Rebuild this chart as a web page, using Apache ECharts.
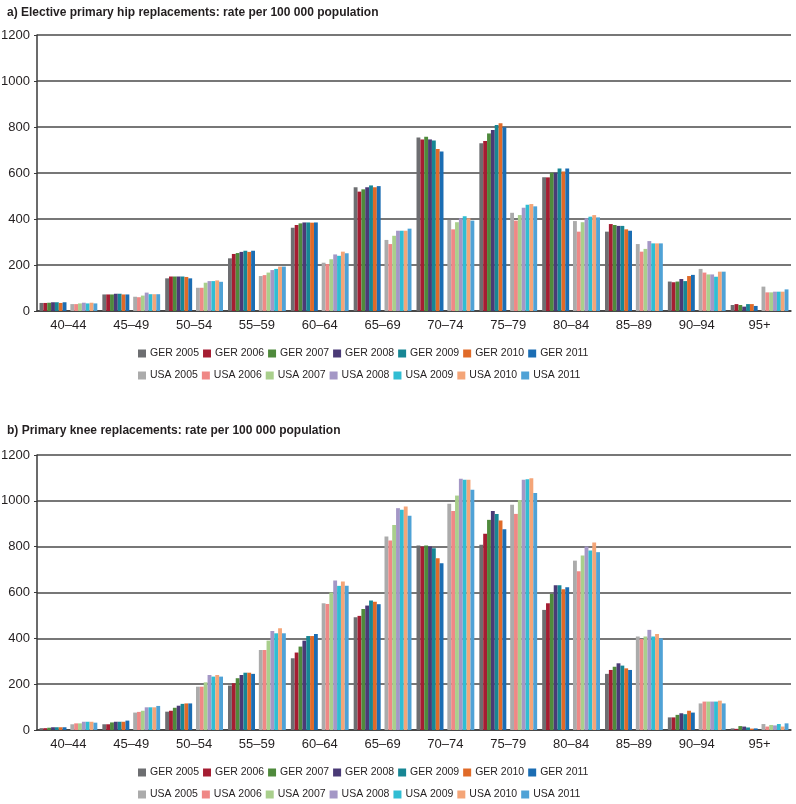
<!DOCTYPE html>
<html>
<head>
<meta charset="utf-8">
<script src="https://cdn.jsdelivr.net/npm/echarts@6/dist/echarts.min.js"></script>
<style>
    html, body { margin: 0; padding: 0; background: #fff; }
    #chart { width: 796px; height: 804px; }
</style>
</head>
<body>
<div id="chart"></div>
<script>
const ageGroups = ['40–44', '45–49', '50–54', '55–59', '60–64', '65–69', '70–74', '75–79', '80–84', '85–89', '90–94', '95+'];
const years = ['2005', '2006', '2007', '2008', '2009', '2010', '2011'];
const yTicks = [0, 200, 400, 600, 800, 1000, 1200];

// one row per age group, one column per year (2005..2011)
const hipGer = [
    [35, 35, 36, 38, 38, 35, 38],
    [72, 72, 72, 75, 75, 72, 72],
    [142, 150, 150, 150, 150, 148, 142],
    [229, 248, 252, 257, 262, 257, 262],
    [362, 374, 381, 385, 385, 384, 385],
    [538, 519, 529, 538, 546, 538, 543],
    [754, 746, 758, 746, 741, 704, 693],
    [729, 739, 772, 787, 809, 816, 799],
    [581, 581, 601, 601, 620, 606, 620],
    [345, 378, 374, 370, 370, 355, 349],
    [128, 125, 128, 139, 130, 152, 157],
    [26, 30, 26, 19, 30, 30, 22]
];
const hipUsa = [
    [30, 30, 33, 36, 33, 36, 33],
    [62, 60, 67, 80, 73, 73, 73],
    [101, 101, 123, 130, 130, 133, 127],
    [152, 156, 167, 178, 183, 193, 193],
    [210, 204, 225, 246, 240, 258, 251],
    [309, 291, 327, 349, 349, 349, 358],
    [396, 355, 386, 403, 412, 403, 393],
    [427, 393, 417, 449, 462, 465, 455],
    [391, 345, 386, 403, 410, 417, 407],
    [291, 258, 270, 304, 294, 294, 294],
    [183, 167, 159, 159, 149, 171, 171],
    [106, 81, 81, 84, 84, 84, 94]
];
const kneeGer = [
    [8, 8, 10, 12, 12, 12, 12],
    [25, 25, 33, 36, 36, 36, 41],
    [80, 84, 97, 106, 114, 116, 116],
    [194, 204, 226, 240, 250, 250, 245],
    [313, 338, 364, 390, 410, 410, 419],
    [492, 498, 528, 543, 565, 560, 549],
    [805, 801, 805, 801, 793, 750, 728],
    [808, 856, 917, 956, 943, 914, 876],
    [524, 553, 594, 632, 632, 614, 623],
    [245, 262, 276, 291, 281, 269, 262],
    [55, 55, 66, 73, 69, 84, 76],
    [7, 5, 17, 15, 11, 6, 7]
];
const kneeUsa = [
    [25, 29, 29, 36, 36, 36, 32],
    [76, 79, 84, 99, 99, 99, 105],
    [189, 189, 208, 240, 233, 240, 233],
    [349, 349, 390, 432, 422, 444, 422],
    [553, 550, 600, 652, 629, 648, 629],
    [844, 827, 895, 968, 961, 975, 935],
    [987, 956, 1023, 1096, 1092, 1092, 1048],
    [983, 943, 1004, 1092, 1094, 1099, 1034],
    [739, 693, 761, 801, 783, 818, 776],
    [408, 397, 408, 437, 408, 419, 400],
    [116, 124, 124, 124, 124, 128, 116],
    [26, 15, 22, 20, 26, 15, 29]
];

const gerColors = ['#6d6e71', '#a51d32', '#4f8a3c', '#4a3a76', '#178694', '#e06a28', '#1b6db3'];
const usaColors = ['#ababab', '#ef8886', '#a9cf8c', '#a497c6', '#30bdd3', '#f4a578', '#4fa2d6'];

const FONT = '"Liberation Sans Narrow", "Liberation Sans", Arial, sans-serif';
const TEXT = '#231f20';

const gerNames = years.map(y => 'GER ' + y);
const usaNames = years.map(y => 'USA ' + y);

const column = (table, i) => table.map(row => row[i]);

const buildSeries = (gerTable, usaTable, axisIdx) => {
    let list = [];
    years.forEach((y, i) => {
        list.push({
            name: gerNames[i], type: 'bar', xAxisIndex: axisIdx, yAxisIndex: axisIdx,
            data: column(gerTable, i), itemStyle: { color: gerColors[i] },
            barGap: 0, barCategoryGap: '8%'
        });
    });
    // empty spacer between the GER and USA clusters
    list.push({
        name: 'spacer', type: 'bar', xAxisIndex: axisIdx, yAxisIndex: axisIdx,
        data: ageGroups.map(() => null), barGap: 0, barCategoryGap: '8%'
    });
    years.forEach((y, i) => {
        list.push({
            name: usaNames[i], type: 'bar', xAxisIndex: axisIdx, yAxisIndex: axisIdx,
            data: column(usaTable, i), itemStyle: { color: usaColors[i] },
            barGap: 0, barCategoryGap: '8%'
        });
    });
    return list;
};

const makeLegend = (names, top) => ({
    data: names, left: 133, top: top, orient: 'horizontal',
    icon: 'rect', itemWidth: 8, itemHeight: 8, itemGap: 4,
    selectedMode: false,
    textStyle: { fontFamily: FONT, fontSize: 10.5, color: TEXT, padding: [0, 0, 0, -1] }
});

const makeXAxis = (gridIdx) => ({
    type: 'category', gridIndex: gridIdx, data: ageGroups,
    axisLine: { lineStyle: { color: '#3a3a3a', width: 1.5 } },
    axisTick: { show: false },
    axisLabel: { fontFamily: FONT, fontSize: 13, color: TEXT, margin: 8 }
});

const makeYAxis = (gridIdx) => ({
    type: 'value', gridIndex: gridIdx, min: yTicks[0], max: yTicks[yTicks.length - 1], interval: 200,
    axisLine: { show: true, lineStyle: { color: '#3a3a3a', width: 1.5 } },
    axisTick: { show: true, length: 3, lineStyle: { color: '#3a3a3a' } },
    axisLabel: { fontFamily: FONT, fontSize: 13, color: TEXT, margin: 7, formatter: v => String(v) },
    splitLine: { lineStyle: { color: '#4a4a4a', width: 1.5 } }
});

const chart = echarts.init(document.getElementById('chart'));
const option = {
    animation: false,
    title: [
        {
            text: 'a) Elective primary hip replacements: rate per 100 000 population',
            left: 2, top: 2,
            textStyle: { fontFamily: FONT, fontSize: 12, fontWeight: 'bold', color: TEXT }
        },
        {
            text: 'b) Primary knee replacements: rate per 100 000 population',
            left: 2, top: 420,
            textStyle: { fontFamily: FONT, fontSize: 12, fontWeight: 'bold', color: TEXT }
        }
    ],
    legend: [
        makeLegend(gerNames, 343),
        makeLegend(usaNames, 365),
        makeLegend(gerNames, 762),
        makeLegend(usaNames, 784)
    ],
    grid: [
        { left: 37, right: 5, top: 35, bottom: 493, outerBoundsMode: 'none' },
        { left: 37, right: 5, top: 455, bottom: 74, outerBoundsMode: 'none' }
    ],
    xAxis: [makeXAxis(0), makeXAxis(1)],
    yAxis: [makeYAxis(0), makeYAxis(1)],
    series: buildSeries(hipGer, hipUsa, 0).concat(buildSeries(kneeGer, kneeUsa, 1))
};
chart.setOption(option);
</script>
</body>
</html>
